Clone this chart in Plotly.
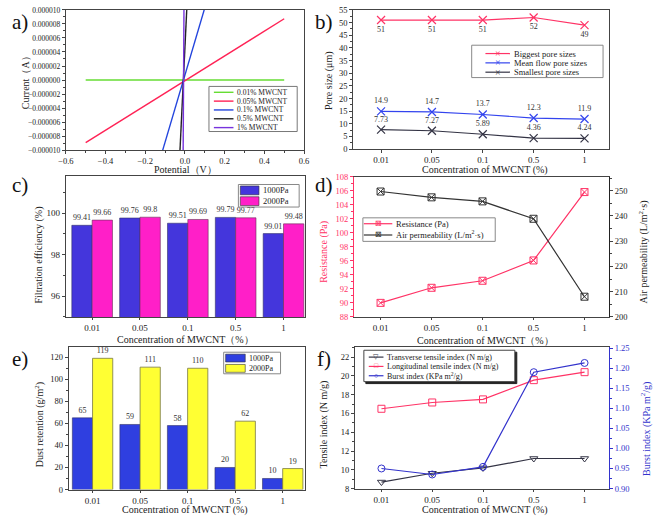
import plotly.graph_objects as go

W, H = 661, 521
FONT = "Liberation Serif"

# ---------------- data ----------------
CATS = ["0.01", "0.05", "0.1", "0.5", "1"]

# a) I-V curves
POT_001 = [-0.5, 0.5];    CUR_001 = [0.0, 0.0]
POT_005 = [-0.5, 0.5];    CUR_005 = [-8.93e-6, 8.74e-6]
POT_01 = [-0.112, 0.097]; CUR_01 = [-1e-5, 1e-5]
POT_05 = [-0.025, 0.009]; CUR_05 = [-1e-5, 1e-5]
POT_1 = [-0.009, -0.005]; CUR_1 = [-1e-5, 1e-5]

# b) pore sizes
BIGGEST = [51, 51, 51, 52, 49]
MEANFLOW = [14.9, 14.7, 13.7, 12.3, 11.9]
SMALLEST = [7.73, 7.27, 5.89, 4.36, 4.24]

# c) filtration efficiency
EFF_1000 = [99.41, 99.76, 99.51, 99.79, 99.01]
EFF_2000 = [99.66, 99.8, 99.69, 99.77, 99.48]

# d) resistance & air permeability
RESIST = [90.0, 92.15, 93.15, 96.05, 105.8]
AIRPERM = [249.7, 247.4, 245.8, 238.9, 208.0]

# e) dust retention
DUST_1000 = [65, 59, 58, 20, 10]
DUST_2000 = [119, 111, 110, 62, 19]

# f) tensile & burst
TRANSVERSE = [8.69, 9.63, 10.2, 11.2, 11.2]
LONGITUD = [16.5, 17.17, 17.5, 19.55, 20.4]
BURST = [0.950, 0.935, 0.954, 1.190, 1.213]

# ---------------- helpers ----------------
def PX(x): return x / W
def PY(y): return 1 - y / H

AX = "#444444"
TXT = "#222222"

fig = go.Figure()

def ann(x, y, text, size=10, color=TXT, angle=0, xanchor="center", yanchor="middle"):
    fig.add_annotation(x=PX(x), y=PY(y), xref="paper", yref="paper", text=text,
                       showarrow=False, textangle=angle, xanchor=xanchor, yanchor=yanchor,
                       font=dict(family=FONT, size=size, color=color))

def rect(x0, y0, x1, y1, line="#666666", fill="white", width=1):
    fig.add_shape(type="rect", xref="paper", yref="paper", x0=PX(x0), x1=PX(x1),
                  y0=PY(y1), y1=PY(y0), line=dict(color=line, width=width), fillcolor=fill)

def hline(x0, x1, y, color, width=1.3):
    fig.add_shape(type="line", xref="paper", yref="paper", x0=PX(x0), x1=PX(x1),
                  y0=PY(y), y1=PY(y), line=dict(color=color, width=width))

def xax(dom, rng, cat=False, **kw):
    d = dict(domain=[PX(dom[0]), PX(dom[1])], range=rng, showline=True, linecolor=AX,
             linewidth=1, mirror=True, ticks="outside", ticklen=2.5, tickcolor=AX,
             showgrid=False, zeroline=False,
             tickfont=dict(family=FONT, size=9, color=TXT))
    if cat:
        d.update(type="category")
    d.update(kw)
    return d

def yax(dom, rng, **kw):
    d = dict(domain=[PY(dom[1]), PY(dom[0])], range=rng, showline=True, linecolor=AX,
             linewidth=1, mirror=True, ticks="outside", ticklen=3, tickcolor=AX,
             showgrid=False, zeroline=False,
             tickfont=dict(family=FONT, size=8.5, color=TXT))
    d.update(kw)
    return d

# ---------------- a) ----------------
A_COLORS = ["#66dd33", "#ff2255", "#2244dd", "#222222", "#7733dd"]
A_NAMES = ["0.01% MWCNT", "0.05% MWCNT", "0.1% MWCNT", "0.5% MWCNT", "1% MWCNT"]
for (xs, ys), c in zip([(POT_001, CUR_001), (POT_005, CUR_005), (POT_01, CUR_01),
                        (POT_05, CUR_05), (POT_1, CUR_1)], A_COLORS):
    fig.add_trace(go.Scatter(x=xs, y=ys, mode="lines", line=dict(color=c, width=1.4),
                             xaxis="x", yaxis="y", showlegend=False, cliponaxis=True))

# ---------------- b) ----------------
for vals, c, pos in [(BIGGEST, "#ff3366", "bottom center"),
                     (MEANFLOW, "#3344ee", "top center"),
                     (SMALLEST, "#333344", "top center")]:
    fig.add_trace(go.Scatter(x=CATS, y=vals, mode="lines+markers+text",
                             line=dict(color=c, width=1.2),
                             marker=dict(symbol="x-thin", size=8, line=dict(color=c, width=1.2)),
                             text=[str(v) for v in vals], textposition=pos,
                             textfont=dict(family=FONT, size=8, color="#333333"),
                             xaxis="x2", yaxis="y2", showlegend=False))

# ---------------- c) ----------------
C_BLUE, C_MAG = "#4436dc", "#ff1fc8"
fig.add_trace(go.Bar(x=CATS, y=EFF_1000, marker=dict(color=C_BLUE, line=dict(color="#333366", width=0.6)),
                     text=[f"{v:g}" for v in EFF_1000], textposition="outside",
                     textfont=dict(family=FONT, size=8, color="#333333"),
                     xaxis="x3", yaxis="y3", showlegend=False, cliponaxis=False))
fig.add_trace(go.Bar(x=CATS, y=EFF_2000, marker=dict(color=C_MAG, line=dict(color="#663355", width=0.6)),
                     text=[f"{v:g}" for v in EFF_2000], textposition="outside",
                     textfont=dict(family=FONT, size=8, color="#333333"),
                     xaxis="x3", yaxis="y3", showlegend=False, cliponaxis=False))

# ---------------- d) ----------------
D_RED = "#ff3366"
fig.add_trace(go.Scatter(x=CATS, y=RESIST, mode="lines+markers", line=dict(color=D_RED, width=1.2),
                         marker=dict(symbol="square-x-open", size=7, line=dict(color=D_RED, width=1)),
                         xaxis="x4", yaxis="y4", showlegend=False))
fig.add_trace(go.Scatter(x=CATS, y=AIRPERM, mode="lines+markers", line=dict(color="#333333", width=1.2),
                         marker=dict(symbol="square-x-open", size=7, line=dict(color="#333333", width=1)),
                         xaxis="x4", yaxis="y5", showlegend=False))

# ---------------- e) ----------------
E_BLUE, E_YEL = "#2f3fe0", "#ffff33"
fig.add_trace(go.Bar(x=CATS, y=DUST_1000, marker=dict(color=E_BLUE, line=dict(color="#333366", width=0.6)),
                     text=[str(v) for v in DUST_1000], textposition="outside",
                     textfont=dict(family=FONT, size=8, color="#333333"),
                     xaxis="x5", yaxis="y6", showlegend=False, cliponaxis=False))
fig.add_trace(go.Bar(x=CATS, y=DUST_2000, marker=dict(color=E_YEL, line=dict(color="#777744", width=0.8)),
                     text=[str(v) for v in DUST_2000], textposition="outside",
                     textfont=dict(family=FONT, size=8, color="#333333"),
                     xaxis="x5", yaxis="y6", showlegend=False, cliponaxis=False))

# ---------------- f) ----------------
F_BLUE = "#3333cc"
fig.add_trace(go.Scatter(x=CATS, y=TRANSVERSE, mode="lines+markers", line=dict(color="#333344", width=1.2),
                         marker=dict(symbol="triangle-down-open", size=7, line=dict(color="#333344", width=1)),
                         xaxis="x6", yaxis="y7", showlegend=False))
fig.add_trace(go.Scatter(x=CATS, y=LONGITUD, mode="lines+markers", line=dict(color=D_RED, width=1.2),
                         marker=dict(symbol="square-open", size=7, line=dict(color=D_RED, width=1)),
                         xaxis="x6", yaxis="y7", showlegend=False))
fig.add_trace(go.Scatter(x=CATS, y=BURST, mode="lines+markers", line=dict(color=F_BLUE, width=1.2),
                         marker=dict(symbol="circle-open", size=7, line=dict(color=F_BLUE, width=1)),
                         xaxis="x6", yaxis="y8", showlegend=False))

# ---------------- axes ----------------
layout = dict(
    width=W, height=H, margin=dict(l=0, r=0, t=0, b=0),
    paper_bgcolor="white", plot_bgcolor="white", showlegend=False,
    barmode="group", bargap=0.15, bargroupgap=0,
    font=dict(family=FONT, color=TXT),
    # a
    xaxis=xax((59, 302), [-0.6, 0.6], dtick=0.2, tickformat=".1f",
              tickfont=dict(family=FONT, size=8.5, color=TXT),
              minor=dict(ticks="outside", ticklen=2, dtick=0.1, tickcolor=AX)),
    yaxis=yax((5, 148), [-1e-5, 1e-5], dtick=2e-6, tickformat=".6f",
              tickfont=dict(family=FONT, size=7.5, color=TXT),
              minor=dict(ticks="outside", ticklen=2, dtick=1e-6, tickcolor=AX)),
    # b
    xaxis2=xax((352, 613), [-0.55, 4.48], cat=True, anchor="y2"),
    yaxis2=yax((5, 147), [0, 55], dtick=5, anchor="x2",
               minor=dict(ticks="outside", ticklen=2, dtick=2.5, tickcolor=AX)),
    # c
    xaxis3=xax((59, 303), [-0.55, 4.45], cat=True, anchor="y3"),
    yaxis3=yax((174, 318), [95, 101.8], tickvals=[96, 98, 100], anchor="x3",
               tickfont=dict(family=FONT, size=9, color=TXT),
               minor=dict(ticks="outside", ticklen=2, tickvals=[95, 97, 99, 101], tickcolor=AX)),
    # d
    xaxis4=xax((353, 613), [-0.52, 4.48], cat=True, anchor="y4", mirror=True),
    yaxis4=yax((175, 318), [88, 108], dtick=2, anchor="x4", mirror=False,
               linecolor=D_RED, tickcolor=D_RED,
               tickfont=dict(family=FONT, size=8.5, color=D_RED),
               minor=dict(ticks="outside", ticklen=2, dtick=1, tickcolor=D_RED)),
    yaxis5=yax((175, 318), [200, 255.6], dtick=10, anchor="x4", overlaying="y4", side="right",
               mirror=False, linecolor="#222222",
               minor=dict(ticks="outside", ticklen=2, dtick=5, tickcolor=AX)),
    # e
    xaxis5=xax((62, 303), [-0.5, 4.47], cat=True, anchor="y6"),
    yaxis6=yax((349, 494), [0, 129], dtick=20, anchor="x5",
               minor=dict(ticks="outside", ticklen=2, dtick=10, tickcolor=AX)),
    # f
    xaxis6=xax((354, 613), [-0.52, 4.48], cat=True, anchor="y7"),
    yaxis7=yax((349, 493), [8, 23.05], dtick=2, anchor="x6", mirror=False,
               minor=dict(ticks="outside", ticklen=2, dtick=1, tickcolor=AX)),
    yaxis8=yax((349, 493), [0.9, 1.252], dtick=0.05, tickformat=".2f", anchor="x6",
               overlaying="y7", side="right", mirror=False, linecolor=F_BLUE, tickcolor=F_BLUE,
               tickfont=dict(family=FONT, size=8.5, color=F_BLUE),
               minor=dict(ticks="outside", ticklen=2, dtick=0.025, tickcolor=F_BLUE)),
)
fig.update_layout(**layout)

# ---------------- panel labels ----------------
for lab, x, y in [("a)", 12, 17), ("b)", 322, 17), ("c)", 12, 184),
                  ("d)", 322, 184), ("e)", 12, 361), ("f)", 322, 361)]:
    ann(x, y, lab, size=21, color="#111111")

# ---------------- axis titles ----------------
ann(181, 168, "Potential（V）", size=10)
ann(18, 77, "Current（A）", size=10, angle=-90)
ann(487, 168, "Concentration of MWCNT (%)", size=10)
ann(327, 77, "Pore size (μm)", size=10, angle=-90)
ann(181, 341, "Concentration of MWCNT（%）", size=10)
ann(32, 255, "Filtration efficiency (%)", size=10, angle=-90)
ann(487, 342, "Concentration of MWCNT（%）", size=10)
ann(322, 252, "Resistance (Pa)", size=10, angle=-90, color=D_RED)
ann(648, 252, "Air permeability (L/m<sup>2</sup>·s)", size=10, angle=-90)
ann(181, 515, "Concentration of MWCNT (%)", size=10)
ann(32, 428, "Dust retention (g/m<sup>2</sup>)", size=10, angle=-90)
ann(487, 515, "Concentration of MWCNT (%)", size=10)
ann(322, 428, "Tensile index (N m/g)", size=10, angle=-90)
ann(651, 432, "Burst index (KPa m<sup>2</sup>/g)", size=10, angle=-90, color=F_BLUE)

# ---------------- legends (drawn) ----------------
# a
rect(205, 83, 295, 129, line="#777777")
for i, (nm, c) in enumerate(zip(A_NAMES, A_COLORS)):
    yy = 89 + i * 9
    hline(210, 230, yy, c, width=1.4)
    ann(232, yy, nm, size=7.5, xanchor="left")
# b
rect(473, 41, 607, 74, line="#888888")
for i, (nm, c) in enumerate([("Biggest pore sizes", "#ff3366"), ("Mean flow pore sizes", "#3344ee"),
                             ("Smallest pore sizes", "#333344")]):
    yy = 49.5 + i * 9.5
    hline(487, 512, yy, c, width=1.2)
    ann(499.5, yy, "×", size=10, color=c)
    ann(514, yy, nm, size=8.5, xanchor="left")
# c
rect(235, 183, 297, 206, line="#888888")
for i, (nm, c) in enumerate([("1000Pa", C_BLUE), ("2000Pa", C_MAG)]):
    yy = 189 + i * 11
    rect(237, yy - 4.5, 256, yy + 4.5, line="#333333", fill=c, width=0.6)
    ann(258, yy, nm, size=8.5, xanchor="left")
# d
rect(362, 217, 497, 241, line="#888888")
for i, (nm, c) in enumerate([("Resistance (Pa)", D_RED),
                             ("Air permeability (L/m<sup>2</sup>·s)", "#333333")]):
    yy = 223 + i * 11.5
    hline(363, 392, yy, c, width=1.2)
    ann(377.5, yy, "⊠", size=8, color=c)
    ann(394, yy, nm, size=8.5, xanchor="left")
# e
rect(220, 354, 278, 376, line="#888888")
for i, (nm, c) in enumerate([("1000Pa", E_BLUE), ("2000Pa", E_YEL)]):
    yy = 360 + i * 10.5
    rect(222, yy - 4, 242, yy + 4, line="#333333", fill=c, width=0.6)
    ann(244, yy, nm, size=8, xanchor="left")
# f
rect(365, 354, 519, 386, line="#222222", fill="#222222")
rect(363, 352, 517, 384, line="#444444")
for i, (nm, c, sym) in enumerate([("Transverse tensile index (N m/g)", "#333344", "▽"),
                                  ("Longitudinal tensile index (N m/g)", D_RED, "□"),
                                  ("Burst index (KPa m<sup>2</sup>/g)", F_BLUE, "○")]):
    yy = 359 + i * 9.5
    hline(368, 383, yy, c, width=1.2)
    ann(375.5, yy, sym, size=7, color=c)
    ann(385, yy, nm, size=8, xanchor="left")

fig.write_html("out.html", config={"displayModeBar": False},
               post_script="document.body.style.margin='0';document.body.style.overflow='hidden';")
